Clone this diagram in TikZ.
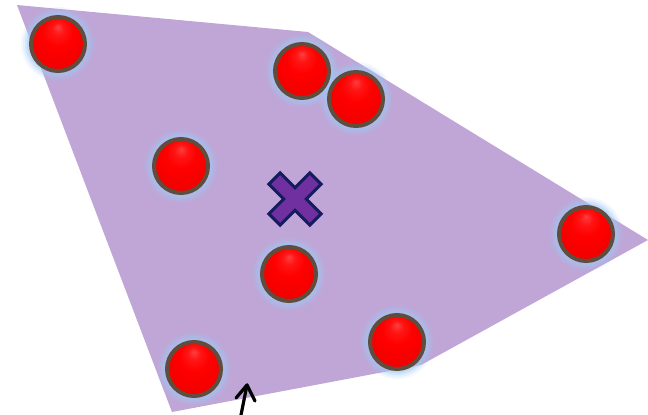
\documentclass[tikz,border=0pt]{standalone}
\usetikzlibrary{arrows.meta}
\definecolor{hullfill}{RGB}{191,166,214}
\definecolor{glowblue}{RGB}{160,200,245}
\definecolor{ringbrown}{RGB}{95,78,62}
\definecolor{xfill}{RGB}{112,48,160}
\definecolor{xline}{RGB}{20,28,95}
\pgfdeclareradialshading{redball}{\pgfpoint{0bp}{16bp}}{%
  color(0bp)=(red!75!white);
  color(6bp)=(red!92!white);
  color(14bp)=(red);
  color(32bp)=(red!94!black);
  color(44bp)=(red!75!black);
  color(50bp)=(red!65!black)}
\tikzset{
  ballnode/.style={circle, minimum size=54pt, inner sep=0pt, draw=ringbrown,
    line width=4pt, shading=redball},
  hull/.style={fill=hullfill, draw=none},
  xmark/.style={fill=xfill, draw=xline, line width=3pt, line join=miter},
  pointer/.style={draw=black, line width=3.2pt, line cap=round, line join=round}
}
\begin{document}
\begin{tikzpicture}[x=1pt,y=-1pt]
\useasboundingbox (0,0) rectangle (648,415);
% convex hull
\coordinate (h1) at (17,5);
\coordinate (h2) at (308,32);
\coordinate (h3) at (648,240);
\coordinate (h4) at (421,365);
\coordinate (h5) at (172,412);
\path[hull] (h1) -- (h2) -- (h3) -- (h4) -- (h5) -- cycle;
% glows
\foreach \px/\py in {58/44, 302/71, 356/99, 181/166, 289/274, 397/342, 194/369, 586/234}{
  \foreach \r/\o in {37/0.12, 35/0.18, 33/0.26, 31/0.36}{
    \fill[glowblue, opacity=\o] (\px,\py) circle (\r);
  }
}
% balls
\node[ballnode] (b1) at (58,44) {};
\node[ballnode] (b2) at (302,71) {};
\node[ballnode] (b3) at (356,99) {};
\node[ballnode] (b4) at (181,166) {};
\node[ballnode] (b5) at (289,274) {};
\node[ballnode] (b6) at (397,342) {};
\node[ballnode] (b7) at (194,369) {};
\node[ballnode] (b8) at (586,234) {};
% centroid cross
\begin{scope}[shift={(295,199)}, rotate=45]
\path[xmark] (8,-8) -- (29,-8) -- (29,8) -- (8,8) -- (8,29) -- (-8,29) -- (-8,8)
  -- (-29,8) -- (-29,-8) -- (-8,-8) -- (-8,-29) -- (8,-29) -- cycle;
\end{scope}
% arrow
\coordinate (a0) at (240,420);
\coordinate (a1) at (247,385);
\coordinate (aL) at (236,398);
\coordinate (aR) at (255,401);
\draw[pointer] (a0) -- (a1);
\draw[pointer] (aL) -- (a1) -- (aR);
\end{tikzpicture}
\end{document}
